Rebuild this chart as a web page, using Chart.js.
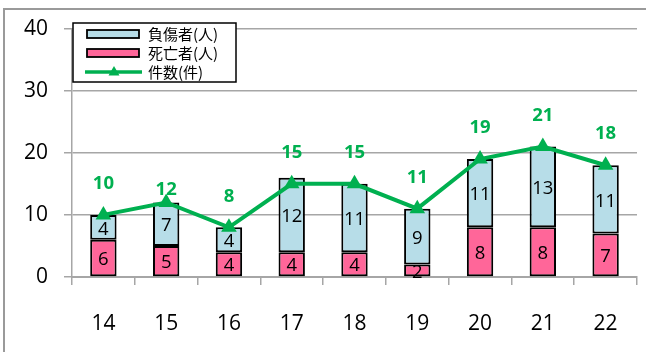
<!DOCTYPE html>
<html>
<head>
<meta charset="utf-8">
<script src="https://cdn.jsdelivr.net/npm/chart.js@4/dist/chart.umd.min.js"></script>
<style>
  body { margin: 0; background: #fff; }
  canvas { display: block; }
</style>
</head>
<body>
<canvas id="chart" width="646" height="352"></canvas>
<script>
// Chart data
const years = ['14', '15', '16', '17', '18', '19', '20', '21', '22'];
const deaths = [6, 5, 4, 4, 4, 2, 8, 8, 7];          // 死亡者(人)
const injured = [4, 7, 4, 12, 11, 9, 11, 13, 11];    // 負傷者(人)
const cases = [10, 12, 8, 15, 15, 11, 19, 21, 18];   // 件数(件)
const yTicks = [0, 10, 20, 30, 40];

const PINK = '#ff6699';
const BLUE = '#b7dde8';
const GREEN = '#00b050';
const GRID = '#a6a6a6';
const NUM_FONT = '"Open Sans", sans-serif';
const JP_FONT = '"Noto Sans CJK JP", sans-serif';

// label gap above each line point (the 2nd label sits close to its point)
const caseLabelGap = [31, 13, 31, 31, 31, 31, 31, 31, 31];

// outer frame + white background
const framePlugin = {
    id: 'frame',
    beforeDraw(chart) {
        const ctx = chart.ctx;
        ctx.save();
        ctx.fillStyle = '#fff';
        ctx.fillRect(0, 0, chart.width, chart.height);
        ctx.strokeStyle = '#9a9a9a';
        ctx.lineWidth = 2;
        ctx.strokeRect(4, 9, chart.width + 20, chart.height + 20);
        ctx.restore();
    }
};

// value labels on bars and line
const labelPlugin = {
    id: 'labels',
    afterDatasetsDraw(chart) {
        const ctx = chart.ctx;
        ctx.save();
        ctx.textAlign = 'center';
        ctx.textBaseline = 'middle';
        [0, 1].forEach(di => {
            const meta = chart.getDatasetMeta(di);
            const values = chart.data.datasets[di].data;
            ctx.font = '18.5px ' + NUM_FONT;
            ctx.fillStyle = '#000';
            meta.data.forEach((bar, i) => {
                let y = (bar.y + bar.base) / 2 + 2;
                if (values[i] <= 2) y = bar.base - 4;
                ctx.fillText(values[i], bar.x, y);
            });
        });
        const lineMeta = chart.getDatasetMeta(2);
        ctx.font = 'bold 18.5px ' + NUM_FONT;
        ctx.fillStyle = GREEN;
        lineMeta.data.forEach((pt, i) => {
            ctx.fillText(cases[i], pt.x, pt.y - caseLabelGap[i]);
        });
        ctx.restore();
    }
};

// legend box inside the plot, top left
const legendPlugin = {
    id: 'boxLegend',
    afterDraw(chart) {
        const ctx = chart.ctx;
        const x = 73, y = 23, w = 163, h = 59;
        ctx.save();
        ctx.fillStyle = '#fff';
        ctx.fillRect(x, y, w, h);
        ctx.strokeStyle = '#000';
        ctx.lineWidth = 1.5;
        ctx.strokeRect(x, y, w, h);

        const ds = chart.data.datasets;
        const rows = [ds[1], ds[0], ds[2]];
        ctx.font = '15px ' + JP_FONT;
        ctx.textBaseline = 'middle';
        ctx.textAlign = 'left';
        rows.forEach((d, r) => {
            const cy = y + 11 + r * 19;
            if (d.type === 'line') {
                ctx.strokeStyle = d.borderColor;
                ctx.lineWidth = 3.5;
                ctx.beginPath();
                ctx.moveTo(85, cy);
                ctx.lineTo(142, cy);
                ctx.stroke();
                ctx.fillStyle = d.borderColor;
                ctx.beginPath();
                ctx.moveTo(114, cy - 6);
                ctx.lineTo(119.5, cy + 3.5);
                ctx.lineTo(108.5, cy + 3.5);
                ctx.closePath();
                ctx.fill();
            } else {
                ctx.fillStyle = d.backgroundColor;
                ctx.fillRect(87, cy - 4, 52, 8);
                ctx.strokeStyle = '#000';
                ctx.lineWidth = 1.8;
                ctx.strokeRect(87, cy - 4, 52, 8);
            }
            ctx.fillStyle = '#000';
            ctx.fillText(d.label, 148, cy);
        });
        ctx.restore();
    }
};

new Chart(document.getElementById('chart').getContext('2d'), {
    data: {
        labels: years,
        datasets: [
            {
                type: 'bar',
                label: '死亡者(人)',
                data: deaths,
                backgroundColor: PINK,
                borderColor: '#000',
                borderWidth: 2,
                borderSkipped: false,
                barPercentage: 0.42,
                categoryPercentage: 1,
                order: 1
            },
            {
                type: 'bar',
                label: '負傷者(人)',
                data: injured,
                backgroundColor: BLUE,
                borderColor: '#000',
                borderWidth: 2,
                borderSkipped: false,
                barPercentage: 0.42,
                categoryPercentage: 1,
                order: 1
            },
            {
                type: 'line',
                label: '件数(件)',
                data: cases,
                borderColor: GREEN,
                backgroundColor: GREEN,
                borderWidth: 4,
                pointStyle: 'triangle',
                pointRadius: 9,
                pointBorderWidth: 0,
                tension: 0,
                order: 0
            }
        ]
    },
    options: {
        responsive: false,
        animation: false,
        layout: { padding: { top: 25, right: 0, left: 0, bottom: 0 } },
        plugins: {
            legend: { display: false },
            tooltip: { enabled: false }
        },
        scales: {
            x: {
                stacked: true,
                grid: {
                    offset: true,
                    drawOnChartArea: false,
                    tickLength: 8,
                    color: GRID,
                    lineWidth: 1.5
                },
                border: { color: GRID, width: 2 },
                ticks: {
                    font: { family: NUM_FONT, size: 21 },
                    color: '#000',
                    padding: 26
                },
                afterFit(scale) { scale.height = 75; }
            },
            y: {
                stacked: true,
                min: 0,
                max: 40,
                afterBuildTicks(scale) { scale.ticks = yTicks.map(v => ({ value: v })); },
                grid: {
                    color: GRID,
                    lineWidth: 1.5,
                    tickLength: 8
                },
                border: { color: GRID, width: 1.5 },
                ticks: {
                    font: { family: NUM_FONT, size: 21 },
                    color: '#000',
                    padding: 16
                },
                afterFit(scale) { scale.width = 72; }
            }
        }
    },
    plugins: [framePlugin, labelPlugin, legendPlugin]
});
</script>
</body>
</html>
